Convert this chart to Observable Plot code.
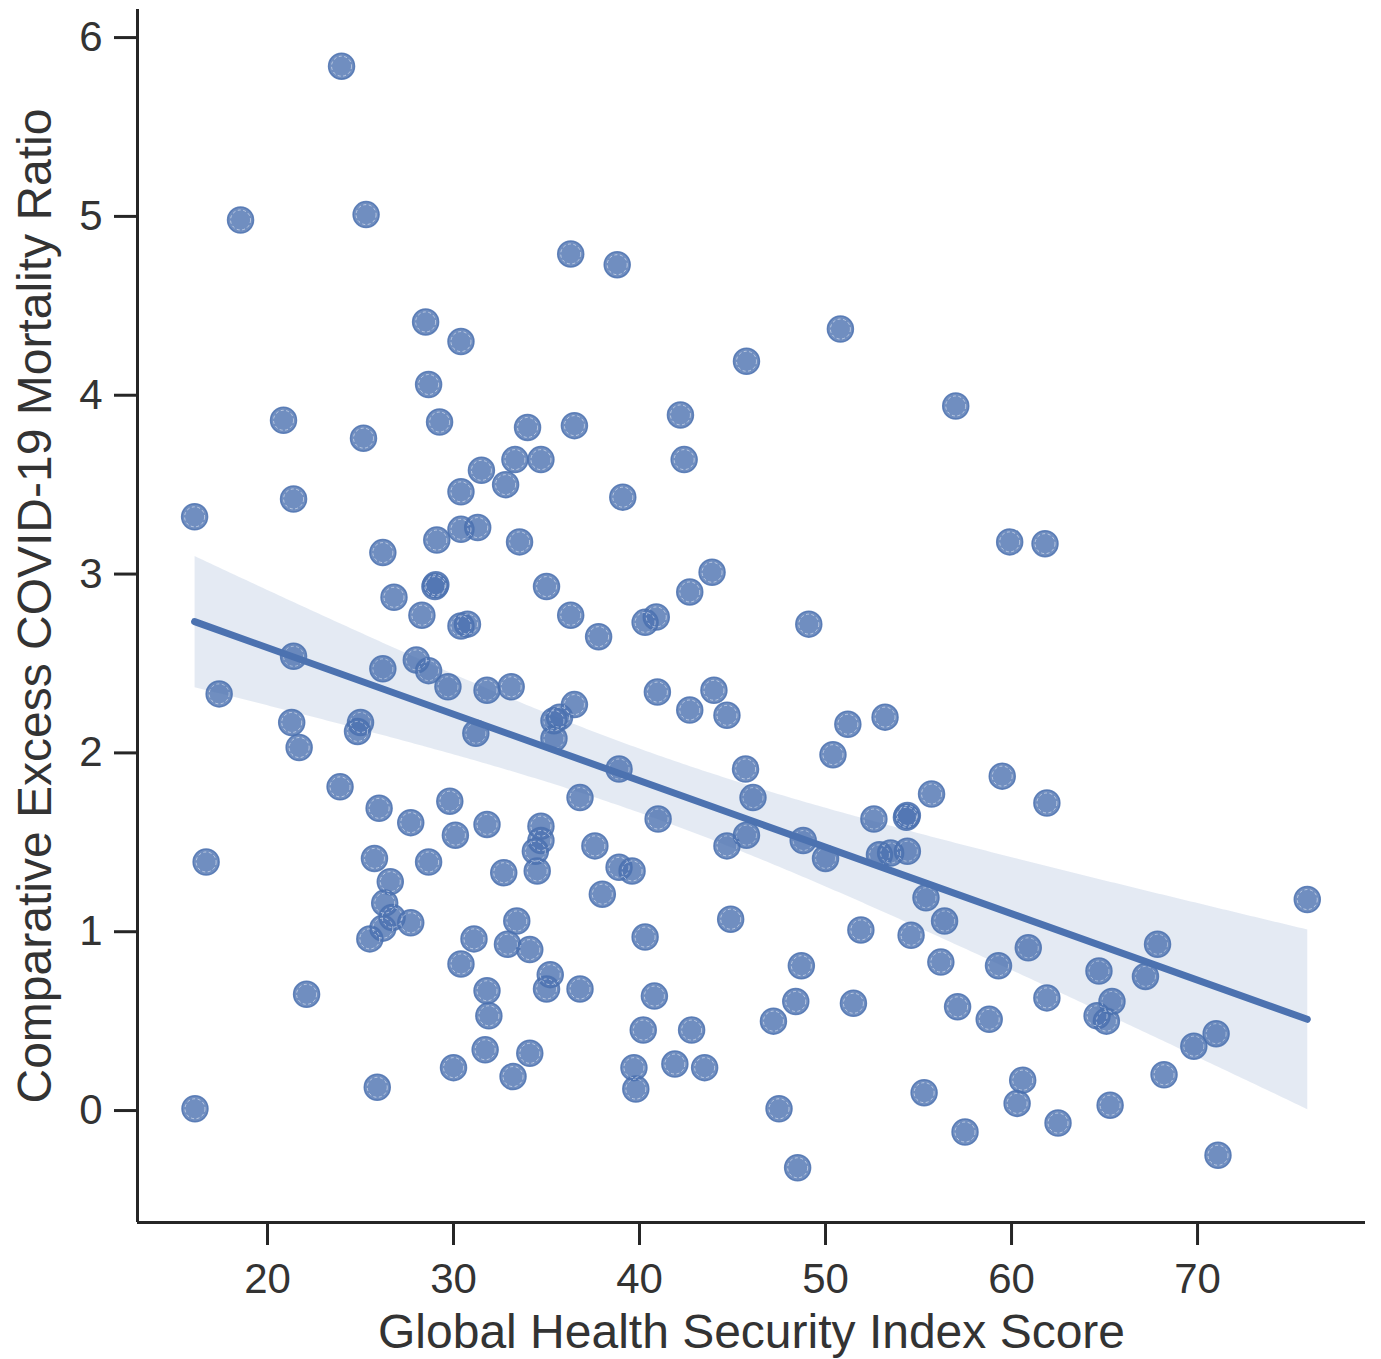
<!DOCTYPE html>
<html><head><meta charset="utf-8">
<script src="https://cdn.jsdelivr.net/npm/d3@7"></script>
<script src="https://cdn.jsdelivr.net/npm/@observablehq/plot@0.6"></script>
<style>html,body{margin:0;padding:0;background:#fff}</style>
</head><body><div id="chart"></div>
<script>
const ghsScore = [
 23.98,18.55,25.3,36.3,38.8,28.5,30.4,50.8,45.75,28.66,
 20.86,29.25,25.16,33.98,36.5,42.2,57.0,33.3,34.7,42.4,
 31.5,32.8,30.4,39.1,16.08,21.4,30.4,31.3,29.1,33.55,
 59.9,61.8,26.2,29.0,35.0,43.9,42.7,26.8,28.3,36.3,
 30.4,30.75,40.3,40.9,49.1,37.8,21.4,26.2,28.0,28.66,
 29.7,31.8,33.1,36.5,35.7,35.4,40.96,44.0,42.7,44.7,
 17.4,21.3,21.7,25.0,24.84,31.2,35.4,51.2,53.2,50.4,
 38.9,45.7,59.5,23.9,55.7,46.1,36.8,29.8,61.9,26.0,
 27.7,31.8,34.7,41.0,52.6,54.35,30.1,34.7,45.75,34.4,
 37.6,44.7,48.8,52.9,53.5,54.4,50.0,16.7,25.75,28.66,
 38.9,39.6,32.7,34.5,26.6,38.0,55.4,75.9,26.3,26.7,
 27.7,33.4,44.9,56.4,26.2,25.5,31.1,32.9,34.1,40.3,
 51.9,54.6,60.9,67.85,56.2,48.7,59.3,30.4,35.2,64.7,
 67.2,36.8,35.0,31.8,22.1,40.8,61.9,48.4,51.5,65.4,
 57.1,31.9,64.6,65.1,58.8,47.2,40.2,42.8,71.0,69.8,
 31.7,34.1,30.0,39.7,41.9,43.5,33.2,68.2,60.6,25.9,
 39.8,55.3,60.3,65.3,16.1,47.5,57.5,62.5,71.1,48.5,
 29.05,54.4
];
const mortalityRatio = [
 5.84,4.98,5.01,4.79,4.73,4.41,4.30,4.37,4.19,4.06,
 3.86,3.85,3.76,3.82,3.83,3.89,3.94,3.64,3.64,3.64,
 3.58,3.50,3.46,3.43,3.32,3.42,3.25,3.26,3.19,3.18,
 3.18,3.17,3.12,2.93,2.93,3.01,2.90,2.87,2.77,2.77,
 2.71,2.72,2.73,2.76,2.72,2.65,2.54,2.47,2.52,2.46,
 2.37,2.35,2.37,2.27,2.20,2.18,2.34,2.35,2.24,2.21,
 2.33,2.17,2.03,2.17,2.12,2.11,2.08,2.16,2.20,1.99,
 1.91,1.91,1.87,1.81,1.77,1.75,1.75,1.73,1.72,1.69,
 1.61,1.60,1.59,1.63,1.63,1.64,1.54,1.51,1.54,1.45,
 1.48,1.48,1.51,1.43,1.44,1.45,1.41,1.39,1.41,1.39,
 1.36,1.34,1.33,1.34,1.28,1.21,1.19,1.18,1.16,1.08,
 1.05,1.06,1.07,1.06,1.02,0.96,0.96,0.93,0.90,0.97,
 1.01,0.98,0.91,0.93,0.83,0.81,0.81,0.82,0.76,0.78,
 0.75,0.68,0.68,0.67,0.65,0.64,0.63,0.61,0.60,0.61,
 0.58,0.53,0.53,0.50,0.51,0.50,0.45,0.45,0.43,0.36,
 0.34,0.32,0.24,0.24,0.26,0.24,0.19,0.20,0.17,0.13,
 0.12,0.10,0.04,0.03,0.01,0.01,-0.12,-0.07,-0.25,-0.32,
 2.94,1.65
];
const xTicks = [20,30,40,50,60,70];
const yTicks = [0,1,2,3,4,5,6];
const xDomain = [13.01, 79.03];
const yDomain = [-0.626, 6.157];
const xLabel = "Global Health Security Index Score";
const yLabel = "Comparative Excess COVID-19 Mortality Ratio";

const data = ghsScore.map((x, i) => ({x, y: mortalityRatio[i]}));
const blue = "#4c72b0";
const ink = "#262626";

const chart = Plot.plot({
  width: 1381, height: 1359,
  marginLeft: 137, marginRight: 16, marginTop: 9, marginBottom: 137,
  x: {domain: xDomain},
  y: {domain: yDomain},
  style: {fontFamily: "'Liberation Sans', Arial, sans-serif", background: "white", color: "#333"},
  marks: [
    Plot.dot(data, {x: "x", y: "y", r: 13, fill: blue, fillOpacity: 0.8, stroke: blue, strokeOpacity: 0.85, strokeWidth: 1.5}),
    Plot.dot(data, {x: "x", y: "y", r: 10, fill: "none", stroke: "white", strokeOpacity: 0.5, strokeWidth: 1, strokeDasharray: "3,2.5"}),
    Plot.linearRegressionY(data, {x: "x", y: "y", stroke: blue, strokeWidth: 7, strokeLinecap: "round", fill: blue, fillOpacity: 0.15, ci: 0.95}),
    Plot.axisX({ticks: xTicks, tickFormat: d => String(d), tickSize: 23, tickPadding: 18, fontSize: 42, strokeWidth: 3, stroke: ink, fill: "#333", label: null}),
    Plot.axisY({ticks: yTicks, tickFormat: d => String(d), tickSize: 23, tickPadding: 12, fontSize: 42, strokeWidth: 3, stroke: ink, fill: "#333", label: null}),
    Plot.ruleX([xDomain[0]], {stroke: ink, strokeWidth: 3}),
    Plot.ruleY([yDomain[0]], {stroke: ink, strokeWidth: 3}),
    Plot.text([xLabel], {frameAnchor: "bottom", textAnchor: "middle", dy: 125, lineAnchor: "bottom", fontSize: 48, fill: "#333"}),
    Plot.text([yLabel], {frameAnchor: "left", textAnchor: "middle", dx: -87, dy: -10, rotate: -90, lineAnchor: "bottom", fontSize: 48, fill: "#333"})
  ]
});
document.getElementById("chart").appendChild(chart);
</script>
</body></html>
